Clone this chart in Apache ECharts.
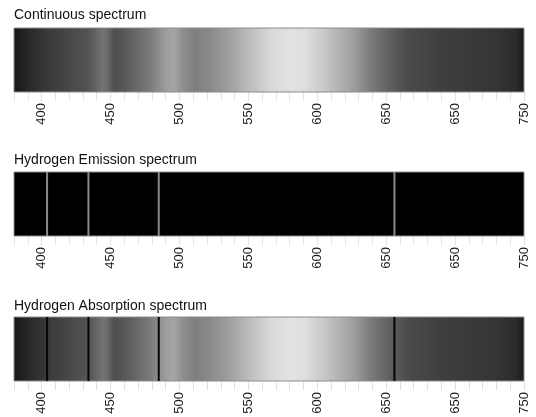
<!DOCTYPE html>
<html>
<head>
<meta charset="utf-8">
<script src="https://cdn.jsdelivr.net/npm/echarts@6/dist/echarts.min.js"></script>
<style>
  html, body { margin: 0; padding: 0; background: #fff; }
  #main { width: 536px; height: 417px; }
</style>
</head>
<body>
<div id="main"></div>
<script>
// panel titles
const titles = ['Continuous spectrum', 'Hydrogen Emission spectrum', 'Hydrogen Absorption spectrum'];

// tick labels as printed (the second "650" is how it appears in the picture)
const tickValues = [400, 450, 500, 550, 600, 650, 700, 750];
const tickLabels = ['400', '450', '500', '550', '600', '650', '650', '750'];

// brightness of the continuous band (0 = black, 255 = white) at wavelengths
const stopWavelengths = [380, 392, 406, 421, 435, 445, 448, 453, 464, 479, 490, 496, 502, 511, 522, 537, 551, 566, 580, 591, 602, 617, 628, 638, 653, 667, 689, 711, 733, 744, 750];
const stopGray =        [ 21,  42,  58,  72,  85, 116, 106,  79,  94, 122, 156, 166, 144, 127, 138, 160, 189, 216, 226, 222, 205, 176, 154, 124,  94,  74,  63,  58,  51,  42,  26];

// hydrogen lines (nm)
const hLines = [404, 434, 485, 656];

const xMin = 380, xMax = 750;

function gray(v) {
  return 'rgb(' + v + ',' + v + ',' + v + ')';
}

// one band item per panel: [from, to, kind]
const spectrumBand = [[xMin, xMax, 1]];
const blackBand = [[xMin, xMax, 0]];

function renderBand(params, api) {
  const w0 = api.value(0), w1 = api.value(1);
  const p0 = api.coord([w0, 1]);
  const p1 = api.coord([w1, 0]);
  let fill = '#000';
  if (api.value(2) === 1) {
    fill = new echarts.graphic.LinearGradient(0, 0, 1, 0, stopWavelengths.map((w, i) => ({
      offset: (w - w0) / (w1 - w0),
      color: gray(stopGray[i])
    })));
  }
  return {
    type: 'rect',
    shape: { x: p0[0], y: p0[1], width: p1[0] - p0[0], height: p1[1] - p0[1] },
    style: { fill: fill, stroke: '#8c8c8c', lineWidth: 1 }
  };
}

function lineRenderer(color) {
  return function (params, api) {
    const top = api.coord([api.value(0), 1]);
    const bot = api.coord([api.value(0), 0]);
    return {
      type: 'rect',
      shape: { x: top[0] - 1, y: top[1], width: 2, height: bot[1] - top[1] },
      style: { fill: color }
    };
  };
}

const gridTops = [28, 172, 317];
const titleTops = [8, 153, 299];

const grids = gridTops.map(t => ({ left: 14, right: 12, top: t, height: 64 }));

const xAxes = gridTops.map((t, i) => ({
  type: 'value',
  gridIndex: i,
  min: xMin,
  max: xMax,
  interval: 10,
  axisLine: { show: false },
  splitLine: { show: false },
  axisTick: { show: true, length: 9, lineStyle: { color: '#e2e2e2', width: 1 } },
  axisLabel: {
    rotate: 90,
    margin: 11,
    fontFamily: 'Liberation Sans, Arial, sans-serif',
    fontSize: 13,
    color: '#1a1a1a',
    showMinLabel: true,
    showMaxLabel: true,
    formatter: function (v) {
      const k = tickValues.indexOf(v);
      return k >= 0 ? tickLabels[k] : '';
    }
  }
}));

const yAxes = gridTops.map((t, i) => ({
  type: 'value', gridIndex: i, min: 0, max: 1, show: false
}));

const bandSeries = (i, data) => ({
  type: 'custom', xAxisIndex: i, yAxisIndex: i,
  renderItem: renderBand, data: data, silent: true, z: 1
});
const lineSeries = (i, color) => ({
  type: 'custom', xAxisIndex: i, yAxisIndex: i,
  renderItem: lineRenderer(color), data: hLines.map(w => [w]), silent: true, z: 3
});

const myChart = echarts.init(document.getElementById('main'));
myChart.setOption({
  backgroundColor: '#fff',
  animation: false,
  title: titles.map((txt, i) => ({
    text: txt,
    left: 14,
    top: titleTops[i],
    padding: 0,
    textStyle: {
      fontFamily: 'Liberation Sans, Arial, sans-serif',
      fontSize: 14,
      fontWeight: 'normal',
      color: '#111'
    }
  })),
  grid: grids,
  xAxis: xAxes,
  yAxis: yAxes,
  series: [
    bandSeries(0, spectrumBand),
    bandSeries(1, blackBand),
    lineSeries(1, '#8a8a8a'),
    bandSeries(2, spectrumBand),
    lineSeries(2, '#050505')
  ]
});
</script>
</body>
</html>
